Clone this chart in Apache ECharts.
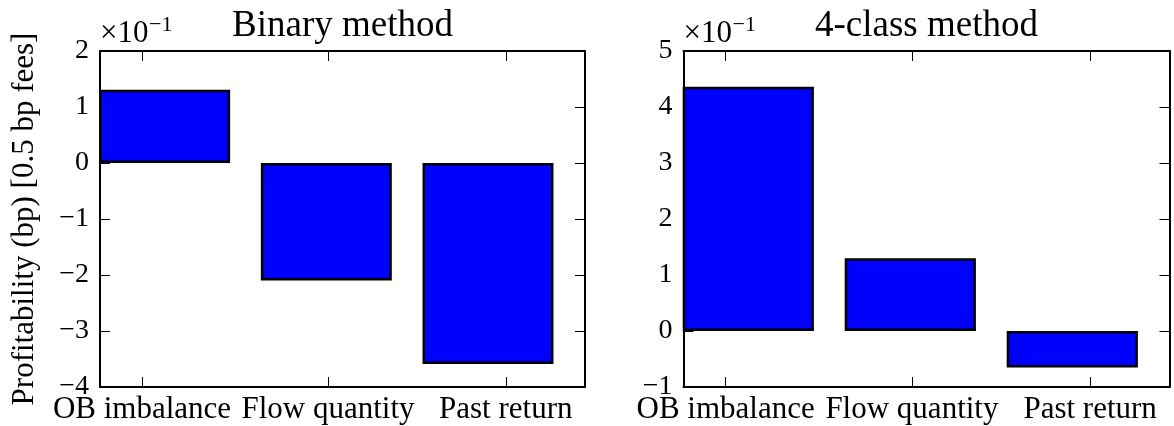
<!DOCTYPE html>
<html>
<head>
<meta charset="utf-8">
<script src="https://cdn.jsdelivr.net/npm/echarts@6/dist/echarts.min.js"></script>
<style>
  html, body { margin: 0; padding: 0; background: #ffffff; }
  #chart { width: 1174px; height: 426px; }
</style>
</head>
<body>
<div id="chart"></div>
<script>
// Feature families compared in each panel
const categories = ['OB imbalance', 'Flow quantity', 'Past return'];

// Profitability in bp (0.5 bp fees), one value per feature family
const binaryProfit = [0.131, -0.210, -0.359];
const fourClassProfit = [0.436, 0.130, -0.065];

// Bar centres and category tick positions on the 0..3 feature axis
const barCenters = [0.4, 1.4, 2.4];
const categoryTicks = [0.26, 1.41, 2.51];

// Y tick labels (multiples of 10^-1) for each panel
const binaryYTicks = [-4, -3, -2, -1, 0, 1, 2];
const fourClassYTicks = [-1, 0, 1, 2, 3, 4, 5];

const FONT = 'Liberation Serif';
const BLACK = '#000000';

const grids = [
  { left: 100, top: 51, width: 485, height: 336 },
  { left: 683.5, top: 51, width: 486, height: 336 }
];

function fmtTick(v) {
  const n = Math.round(v * 10);
  return n < 0 ? '\u2212' + Math.abs(n) : String(n);
}

function xAxes(gi) {
  const common = {
    type: 'value', gridIndex: gi, min: 0, max: 3,
    splitLine: { show: false },
    axisLine: { show: true, onZero: false, lineStyle: { color: BLACK, width: 2 } },
    axisTick: { show: true, inside: true, length: 10, customValues: categoryTicks,
                lineStyle: { color: BLACK, width: 1 } }
  };
  return [
    Object.assign({}, common, {
      position: 'bottom',
      axisLabel: {
        show: true, customValues: categoryTicks, margin: 7,
        color: BLACK, fontFamily: FONT, fontSize: 31,
        formatter: v => categories[categoryTicks.indexOf(v)]
      }
    }),
    Object.assign({}, common, { position: 'top', axisLabel: { show: false } })
  ];
}

function yAxes(gi, ticks, withName) {
  const common = {
    type: 'value', gridIndex: gi,
    min: ticks[0] / 10, max: ticks[ticks.length - 1] / 10, interval: 0.1,
    splitLine: { show: false },
    axisLine: { show: true, onZero: false, lineStyle: { color: BLACK, width: 2 } },
    axisTick: { show: true, inside: true, length: 10, lineStyle: { color: BLACK, width: 1 } }
  };
  const left = Object.assign({}, common, {
    position: 'left',
    axisLabel: { show: true, margin: 11, color: BLACK, fontFamily: FONT, fontSize: 28, formatter: fmtTick }
  });
  if (withName) {
    Object.assign(left, {
      name: 'Profitability (bp) [0.5 bp fees]',
      nameLocation: 'middle', nameRotate: 90, nameGap: 60,
      nameTextStyle: { color: BLACK, fontFamily: FONT, fontSize: 31 }
    });
  }
  const right = Object.assign({}, common, { position: 'right', axisLabel: { show: false } });
  return [left, right];
}

function barSeries(gi, values) {
  return {
    type: 'bar',
    xAxisIndex: gi * 2, yAxisIndex: gi * 2,
    barWidth: '81%',
    data: barCenters.map((x, i) => [x, values[i]]),
    itemStyle: { color: '#0000ff', borderColor: BLACK, borderWidth: 2.5 },
    z: 1
  };
}

function textEl(x, y, text, size) {
  return {
    type: 'text', x: x, y: y, silent: true,
    style: { text: text, fill: BLACK, fontFamily: FONT, fontSize: size, align: 'left', verticalAlign: 'middle' }
  };
}

function titleEl(x, text) {
  return {
    type: 'text', x: x, y: 26, silent: true,
    style: { text: text, fill: BLACK, fontFamily: FONT, fontSize: 37, align: 'center', verticalAlign: 'middle' }
  };
}

const chart = echarts.init(document.getElementById('chart'), null, { renderer: 'canvas' });
chart.setOption({
  animation: false,
  backgroundColor: '#ffffff',
  grid: grids,
  xAxis: xAxes(0).concat(xAxes(1)),
  yAxis: yAxes(0, binaryYTicks, true).concat(yAxes(1, fourClassYTicks, false)),
  series: [barSeries(0, binaryProfit), barSeries(1, fourClassProfit)],
  graphic: [
    titleEl(342.5, 'Binary method'),
    titleEl(926.5, '4-class method'),
    textEl(100, 34, '\u00d710', 31),
    textEl(149, 25, '\u22121', 22),
    textEl(683.5, 34, '\u00d710', 31),
    textEl(732.5, 25, '\u22121', 22)
  ]
});
</script>
</body>
</html>
